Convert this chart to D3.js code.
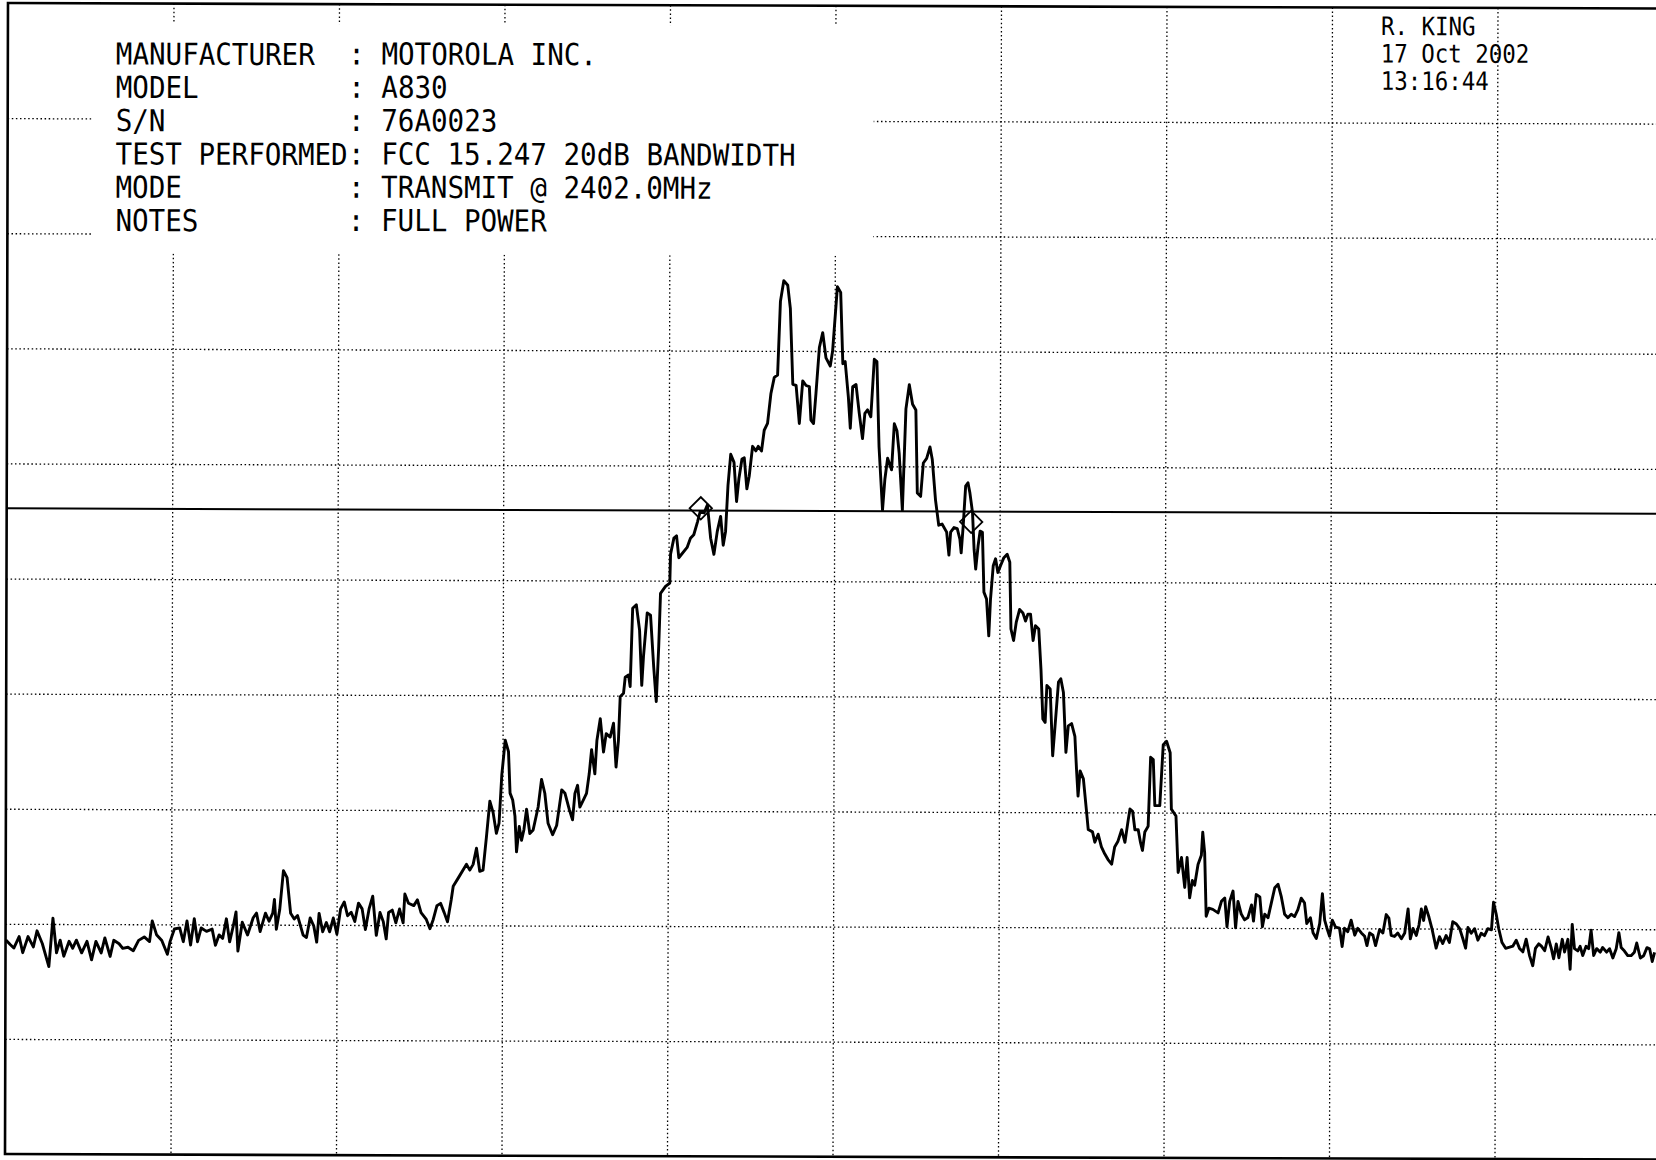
<!DOCTYPE html>
<html>
<head>
<meta charset="utf-8">
<script src="https://cdn.jsdelivr.net/npm/d3@7"></script>
<style>
  html, body { margin: 0; padding: 0; background: #fff; }
  svg { display: block; }
</style>
</head>
<body>
<svg id="chart" width="1656" height="1160"></svg>
<script>
// ---- Test record text ----
const headerLabels = ["MANUFACTURER", "MODEL", "S/N", "TEST PERFORMED", "MODE", "NOTES"];
const headerValues = ["MOTOROLA INC.", "A830", "76A0023", "FCC 15.247 20dB BANDWIDTH", "TRANSMIT @ 2402.0MHz", "FULL POWER"];
const stampLines = ["R. KING", "17 Oct 2002", "13:16:44"];

// ---- Analyzer settings (10 x 10 graticule) ----
const startMHz = 2399.5, stopMHz = 2404.5;            // 2402.0 MHz centre, 0.5 MHz/div
const refLevelDbm = 0, bottomDbm = -100;               // 10 dB/div
const freqGrid = [2400.0, 2400.5, 2401.0, 2401.5, 2402.0, 2402.5, 2403.0, 2403.5, 2404.0];
const levelGrid = [-10, -20, -30, -40, -50, -60, -70, -80, -90];

// Display line, 20 dB under the peak
const displayLineDbm = -43.9;
// Band-edge markers [MHz, dBm]
const markers = [[2401.597, -43.7], [2402.414, -44.8]];

// Trace, [frequency MHz, level dBm]
const trace = [
[2399.501,-81.4],[2399.514,-81.8],[2399.525,-82.1],[2399.541,-81.1],[2399.552,-82.5],[2399.568,-81.1],[2399.584,-82.0],[2399.595,-80.6],[2399.611,-81.7],[2399.631,-83.7],
[2399.643,-79.5],[2399.654,-82.5],[2399.665,-81.4],[2399.676,-82.8],[2399.692,-81.5],[2399.703,-82.1],[2399.714,-81.4],[2399.730,-82.5],[2399.746,-81.5],[2399.760,-83.1],
[2399.773,-81.5],[2399.789,-82.5],[2399.800,-81.2],[2399.816,-82.8],[2399.827,-81.4],[2399.843,-81.7],[2399.854,-82.1],[2399.870,-82.0],[2399.886,-82.3],[2399.902,-81.4],
[2399.919,-81.1],[2399.935,-81.5],[2399.943,-79.7],[2399.956,-80.9],[2399.972,-81.4],[2399.989,-82.6],[2399.997,-81.5],[2400.010,-80.4],[2400.026,-80.3],[2400.037,-81.5],
[2400.048,-79.7],[2400.059,-81.8],[2400.070,-79.5],[2400.080,-81.5],[2400.091,-80.3],[2400.107,-80.6],[2400.124,-80.4],[2400.134,-81.8],[2400.145,-80.9],[2400.156,-81.2],
[2400.167,-79.5],[2400.177,-81.5],[2400.188,-80.1],[2400.196,-78.9],[2400.202,-82.3],[2400.215,-79.8],[2400.231,-80.9],[2400.248,-79.4],[2400.258,-79.0],[2400.269,-80.6],
[2400.285,-79.0],[2400.296,-79.7],[2400.307,-79.0],[2400.312,-77.8],[2400.318,-80.4],[2400.328,-78.7],[2400.339,-75.3],[2400.350,-75.9],[2400.361,-79.0],[2400.372,-79.5],
[2400.382,-79.2],[2400.399,-80.9],[2400.409,-81.1],[2400.420,-79.4],[2400.431,-80.1],[2400.440,-81.5],[2400.447,-79.0],[2400.458,-80.6],[2400.469,-79.8],[2400.479,-80.6],
[2400.490,-79.4],[2400.501,-80.8],[2400.512,-78.6],[2400.523,-78.0],[2400.533,-79.2],[2400.544,-78.9],[2400.555,-79.7],[2400.566,-78.1],[2400.577,-78.6],[2400.587,-80.4],
[2400.598,-78.6],[2400.609,-77.5],[2400.620,-80.9],[2400.631,-78.9],[2400.641,-79.7],[2400.650,-81.2],[2400.657,-78.9],[2400.668,-78.7],[2400.679,-79.8],[2400.690,-78.6],
[2400.701,-79.8],[2400.706,-77.3],[2400.717,-78.1],[2400.733,-78.3],[2400.744,-77.8],[2400.755,-78.9],[2400.771,-79.5],[2400.782,-80.3],[2400.792,-79.5],[2400.803,-78.3],
[2400.814,-78.1],[2400.825,-78.9],[2400.835,-79.7],[2400.846,-77.8],[2400.852,-76.6],
[2400.867,-75.9],[2400.892,-74.7],[2400.902,-75.2],[2400.912,-74.7],[2400.922,-73.3],[2400.932,-75.3],[2400.942,-75.2],[2400.952,-72.3],[2400.962,-69.2],[2400.972,-70.2],
[2400.982,-72.0],[2400.990,-71.1],[2400.998,-66.9],[2401.008,-63.9],[2401.018,-64.9],[2401.023,-68.5],[2401.031,-69.1],[2401.038,-70.5],[2401.043,-73.6],[2401.051,-71.4],
[2401.058,-72.6],[2401.065,-71.7],[2401.073,-69.9],[2401.083,-72.0],[2401.093,-71.7],[2401.108,-69.7],[2401.118,-67.3],[2401.128,-68.5],[2401.138,-71.1],[2401.152,-72.1],
[2401.164,-71.3],[2401.179,-68.2],[2401.189,-68.5],[2401.202,-69.9],[2401.212,-70.8],[2401.219,-68.5],[2401.227,-67.8],[2401.234,-69.7],[2401.244,-69.1],[2401.254,-68.5],
[2401.262,-66.8],[2401.269,-64.7],[2401.279,-66.8],[2401.285,-63.9],[2401.295,-62.0],[2401.305,-64.9],[2401.313,-63.3],[2401.325,-63.6],[2401.335,-62.4],[2401.343,-66.2],
[2401.350,-63.9],[2401.355,-60.1],[2401.365,-59.8],[2401.370,-58.4],[2401.380,-58.2],[2401.385,-59.2],[2401.392,-52.4],[2401.403,-52.1],[2401.413,-54.3],[2401.420,-59.1],
[2401.425,-56.6],[2401.436,-52.8],[2401.446,-53.0],[2401.456,-57.5],[2401.464,-60.5],[2401.471,-55.7],[2401.476,-51.1],[2401.491,-50.5],[2401.504,-50.2],
[2401.506,-47.7],[2401.516,-46.3],[2401.524,-46.1],[2401.531,-48.0],[2401.556,-47.1],[2401.566,-46.3],[2401.576,-46.0],[2401.587,-44.9],[2401.595,-44.0],[2401.607,-44.1],
[2401.617,-43.4],[2401.627,-46.3],[2401.637,-47.7],[2401.647,-45.7],[2401.657,-44.4],[2401.665,-46.9],[2401.672,-45.7],[2401.679,-41.7],[2401.687,-39.0],[2401.697,-39.7],
[2401.705,-43.1],[2401.712,-41.1],[2401.721,-39.4],[2401.728,-39.3],[2401.736,-42.0],[2401.743,-40.9],[2401.753,-38.3],[2401.763,-38.7],[2401.770,-38.3],[2401.780,-38.7],
[2401.788,-36.9],[2401.798,-36.3],[2401.808,-33.7],[2401.818,-32.3],[2401.828,-32.1],[2401.836,-25.7],[2401.846,-23.9],[2401.858,-24.3],[2401.866,-26.3],[2401.874,-32.9],
[2401.884,-33.0],[2401.894,-36.3],[2401.904,-32.6],[2401.914,-33.0],[2401.924,-33.1],[2401.929,-36.0],[2401.937,-36.3],[2401.944,-33.7],[2401.954,-29.7],[2401.964,-28.4],
[2401.974,-30.6],[2401.987,-31.3],[2401.994,-30.0],[2402.008,-24.4],[2402.018,-24.9],[2402.025,-31.1],[2402.032,-30.9],[2402.042,-34.0],[2402.048,-36.7],[2402.055,-33.1],
[2402.065,-32.9],[2402.075,-35.4],[2402.085,-37.6],[2402.092,-35.4],[2402.100,-35.1],[2402.110,-35.7],[2402.120,-30.7],[2402.128,-30.9],[2402.135,-38.3],[2402.146,-43.8],
[2402.153,-41.1],[2402.161,-39.3],[2402.173,-40.3],[2402.181,-36.3],[2402.189,-36.9],[2402.196,-38.9],[2402.206,-43.8],[2402.216,-35.0],[2402.226,-32.9],[2402.236,-34.6],
[2402.246,-35.1],[2402.251,-42.3],[2402.261,-42.6],[2402.269,-39.7],[2402.279,-39.3],[2402.289,-38.3],[2402.296,-39.4],[2402.306,-42.9],[2402.316,-45.1],[2402.326,-45.0],
[2402.340,-45.7],[2402.347,-47.7],
[2402.352,-45.7],[2402.362,-45.3],[2402.372,-45.4],[2402.380,-46.3],[2402.384,-47.5],[2402.390,-45.1],[2402.397,-41.7],[2402.404,-41.4],[2402.410,-42.3],[2402.418,-44.0],
[2402.423,-47.2],[2402.428,-48.9],[2402.435,-46.9],[2402.441,-45.6],[2402.448,-45.7],[2402.453,-50.9],[2402.461,-51.5],[2402.468,-54.7],[2402.473,-51.5],[2402.481,-48.6],
[2402.488,-48.0],[2402.495,-49.2],[2402.503,-48.6],[2402.513,-47.9],[2402.523,-47.6],[2402.531,-48.3],[2402.535,-54.1],[2402.543,-55.1],[2402.551,-53.5],[2402.561,-52.4],
[2402.571,-52.7],[2402.579,-53.4],[2402.586,-52.8],[2402.594,-52.8],[2402.602,-55.1],[2402.609,-53.8],[2402.619,-54.1],[2402.626,-57.6],[2402.632,-61.9],[2402.639,-62.2],
[2402.644,-59.0],[2402.654,-59.3],[2402.662,-65.1],[2402.669,-62.5],[2402.679,-58.7],[2402.686,-58.4],[2402.694,-59.6],[2402.702,-64.8],[2402.709,-62.5],[2402.719,-62.3],
[2402.729,-63.4],[2402.734,-66.2],[2402.739,-68.6],[2402.745,-66.4],[2402.755,-67.1],[2402.765,-70.0],[2402.770,-71.5],[2402.783,-71.7],[2402.790,-72.6],[2402.800,-71.9],
[2402.810,-73.0],[2402.820,-73.6],[2402.830,-74.1],[2402.841,-74.5],[2402.850,-73.0],[2402.860,-72.5],[2402.871,-71.5],[2402.881,-72.6],[2402.891,-70.6],[2402.896,-69.7],
[2402.904,-69.9],[2402.911,-71.5],[2402.921,-71.5],[2402.928,-72.6],[2402.934,-73.3],[2402.941,-71.7],[2402.951,-71.2],[2402.958,-65.2],[2402.966,-65.4],[2402.971,-69.4],
[2402.986,-69.4],[2402.996,-64.1],[2403.006,-63.8],[2403.017,-64.8],[2403.021,-69.7],[2403.035,-70.3],
[2403.042,-75.2],[2403.052,-73.9],[2403.062,-76.5],[2403.069,-73.9],[2403.077,-77.4],[2403.085,-75.9],[2403.092,-76.3],[2403.102,-74.5],[2403.112,-73.7],[2403.116,-71.7],
[2403.122,-73.5],
[2403.127,-79.0],[2403.135,-78.3],[2403.147,-78.4],[2403.163,-78.7],[2403.173,-77.7],[2403.183,-77.4],[2403.190,-79.9],[2403.198,-77.7],[2403.208,-76.8],[2403.216,-80.0],
[2403.223,-77.7],[2403.233,-78.8],[2403.243,-79.3],[2403.253,-79.1],[2403.264,-78.0],[2403.270,-79.4],[2403.278,-77.1],[2403.289,-77.3],[2403.297,-79.9],[2403.304,-78.8],
[2403.314,-79.1],[2403.324,-77.8],[2403.334,-76.5],[2403.344,-76.2],[2403.354,-77.3],[2403.364,-78.8],[2403.374,-79.1],[2403.384,-78.8],[2403.394,-79.0],[2403.404,-78.4],
[2403.414,-77.4],[2403.424,-77.8],[2403.431,-79.6],[2403.442,-79.1],[2403.450,-80.4],[2403.460,-80.9],[2403.470,-79.6],[2403.478,-77.0],[2403.485,-79.3],[2403.492,-80.0],
[2403.500,-80.7],[2403.508,-79.3],[2403.518,-79.9],[2403.530,-80.0],[2403.538,-81.6],[2403.545,-80.0],[2403.555,-80.3],[2403.565,-79.3],[2403.576,-80.6],[2403.585,-80.0],
[2403.596,-80.4],[2403.606,-80.7],[2403.613,-81.5],[2403.621,-80.4],[2403.631,-80.6],[2403.639,-81.5],[2403.651,-80.1],[2403.661,-80.4],[2403.671,-78.8],[2403.679,-79.1],
[2403.686,-80.6],[2403.696,-80.7],[2403.706,-80.4],[2403.717,-80.9],[2403.727,-80.4],[2403.737,-78.3],[2403.744,-80.9],[2403.752,-80.0],[2403.762,-80.6],[2403.770,-79.7],
[2403.777,-78.3],[2403.784,-79.3],[2403.790,-78.1],[2403.800,-79.0],[2403.810,-80.1],[2403.822,-81.7],[2403.832,-80.7],[2403.842,-81.3],[2403.852,-80.6],[2403.862,-81.2],
[2403.872,-79.4],[2403.883,-79.6],[2403.893,-80.0],[2403.903,-80.9],[2403.911,-81.7],[2403.918,-79.9],[2403.928,-80.4],[2403.938,-80.0],[2403.948,-81.0],[2403.958,-80.4],
[2403.968,-80.6],[2403.978,-80.0],[2403.989,-80.1],[2403.995,-77.7],[2404.003,-78.7],[2404.011,-80.0],[2404.021,-81.2],[2404.032,-81.7],[2404.044,-81.6],[2404.054,-81.5],
[2404.064,-81.0],[2404.074,-81.7],[2404.084,-82.0],[2404.094,-80.9],[2404.104,-82.3],[2404.114,-83.2],[2404.122,-81.7],[2404.132,-81.3],[2404.140,-81.5],[2404.150,-81.9],
[2404.160,-80.7],[2404.170,-81.7],[2404.177,-82.6],[2404.185,-81.3],[2404.193,-82.5],[2404.203,-80.9],[2404.210,-82.0],[2404.220,-80.9],[2404.227,-83.5],[2404.233,-79.6],
[2404.240,-81.7],[2404.250,-81.9],[2404.257,-81.5],[2404.265,-82.3],[2404.275,-81.5],[2404.283,-81.7],[2404.290,-80.1],[2404.298,-82.3],[2404.307,-81.7],[2404.318,-82.0],
[2404.325,-81.6],[2404.337,-82.0],[2404.346,-81.7],[2404.356,-82.5],[2404.366,-81.7],[2404.374,-80.3],[2404.381,-81.6],[2404.391,-81.9],[2404.401,-82.3],[2404.411,-82.3],
[2404.421,-82.0],[2404.428,-81.2],[2404.439,-82.5],[2404.449,-82.3],[2404.459,-81.6],[2404.467,-81.7],[2404.475,-82.8],[2404.482,-82.0]
];

// ---- Layout ----
const L = 8, T = 3, W = 1655, H = 1151;
const skewY = 0.0033, skewX = -0.0026;   // paper sits slightly skewed on the platen

const x = d3.scaleLinear().domain([startMHz, stopMHz]).range([L, L + W]);
const y = d3.scaleLinear().domain([refLevelDbm, bottomDbm]).range([T, T + H]);

const svg = d3.select("#chart");
svg.append("rect").attr("width", 1656).attr("height", 1160).attr("fill", "#fff");

const g = svg.append("g").attr("transform", `matrix(1,${skewY},${skewX},1,0,0)`);

// Dotted graticule
function styleGrid(sel) {
  sel.select(".domain").remove();
  sel.selectAll(".tick line")
    .attr("stroke", "#000")
    .attr("stroke-width", 1.3)
    .attr("stroke-dasharray", "1.5 2.6");
}
g.append("g")
  .attr("transform", `translate(0,${T})`)
  .call(d3.axisTop(x).tickValues(freqGrid).tickSize(-H).tickFormat(""))
  .call(styleGrid);
g.append("g")
  .attr("transform", `translate(${L},0)`)
  .call(d3.axisLeft(y).tickValues(levelGrid).tickSize(-W).tickFormat(""))
  .call(styleGrid);

// Blank label area over the graticule
g.append("rect")
  .attr("x", 92).attr("y", 23).attr("width", 782).attr("height", 230)
  .attr("fill", "#fff");

// Graticule frame
g.append("rect")
  .attr("x", x(startMHz)).attr("y", y(refLevelDbm))
  .attr("width", x(stopMHz) - x(startMHz)).attr("height", y(bottomDbm) - y(refLevelDbm))
  .attr("fill", "none").attr("stroke", "#000").attr("stroke-width", 2.6);

// Header block (monospace plotter lettering)
const font = "'DejaVu Sans Mono', 'Liberation Mono', monospace";
const hdrSize = 30.2, hdrSx = 0.912, hdrAdv = 16.6;
const hdrX = 116, hdrY0 = 64.5, hdrDy = 33.3;
// text is placed by its position on the page, then mapped back through the skew
function plotText(parent, str, px, py, size, sx) {
  const by = py - skewY * px;
  parent.append("text")
    .attr("transform", `translate(${px},${by}) scale(${sx},1)`)
    .attr("font-family", font).attr("font-size", size)
    .attr("fill", "#000")
    .text(str);
}
headerLabels.forEach((lab, i) => {
  const py = hdrY0 + i * hdrDy;
  plotText(g, lab, hdrX, py, hdrSize, hdrSx);
  plotText(g, ":", hdrX + 14 * hdrAdv, py, hdrSize, hdrSx);
  plotText(g, headerValues[i], hdrX + 16 * hdrAdv, py, hdrSize, hdrSx);
});
stampLines.forEach((s, i) => {
  plotText(g, s, 1381, 35 + i * 27.4, 25.4, 0.883);
});

// Display line
g.append("line")
  .attr("x1", x(startMHz)).attr("x2", x(stopMHz))
  .attr("y1", y(displayLineDbm)).attr("y2", y(displayLineDbm))
  .attr("stroke", "#000").attr("stroke-width", 2);

// Trace
g.append("path")
  .datum(trace)
  .attr("d", d3.line().x(d => x(d[0])).y(d => y(d[1])))
  .attr("fill", "none")
  .attr("stroke", "#000")
  .attr("stroke-width", 2.9)
  .attr("stroke-linejoin", "round");

// Markers (open diamonds)
const diamond = d3.symbol().type(d3.symbolSquare).size(250);
g.selectAll(".marker")
  .data(markers)
  .join("path")
  .attr("class", "marker")
  .attr("d", diamond)
  .attr("transform", d => `translate(${x(d[0])},${y(d[1])}) rotate(45)`)
  .attr("fill", "none")
  .attr("stroke", "#000")
  .attr("stroke-width", 1.8);
</script>
</body>
</html>
